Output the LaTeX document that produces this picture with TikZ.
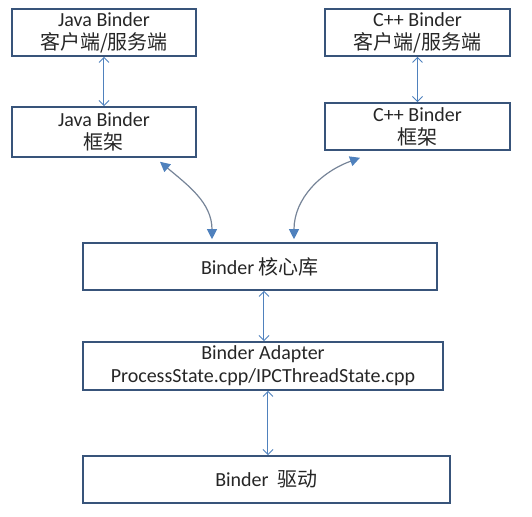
\documentclass[tikz,border=0pt]{standalone}
\usepackage{fontspec}
\setmainfont{Carlito}
\newfontfamily\cjk{Noto Sans CJK SC}
\usetikzlibrary{arrows.meta}

\definecolor{boxblue}{RGB}{56,84,122}
\definecolor{arrowblue}{RGB}{79,129,189}
\definecolor{curvegray}{RGB}{118,132,152}
\definecolor{textgray}{RGB}{38,38,38}

\tikzset{
  layerbox/.style={draw=boxblue, line width=0.8pt, inner sep=0pt, align=center,
    text=textgray, font=\fontsize{10}{11.5}\selectfont},
  link/.style={arrowblue, line width=0.5pt,
    {Straight Barb[length=2.5pt,width=5pt]}-{Straight Barb[length=2.5pt,width=5pt]}},
  bendlink/.style={curvegray, line width=0.6pt,
    {Triangle[length=5pt,width=5pt,color=arrowblue]}-{Triangle[length=5pt,width=5pt,color=arrowblue]}}
}

\begin{document}
\begin{tikzpicture}[x=0.5pt,y=0.5pt]
    \useasboundingbox (0,0) rectangle (532,517);
    % top row
    \node[layerbox, minimum width=92pt, minimum height=23.5pt] (javaapp) at (104,484.5) {Java Binder\\{\cjk 客户端/服务端}};
    \node[layerbox, minimum width=92.5pt, minimum height=23.5pt] (cppapp) at (417.5,484.5) {C++ Binder\\{\cjk 客户端/服务端}};
    % frameworks
    \node[layerbox, minimum width=92pt, minimum height=25pt] (javafw) at (104,385) {Java Binder\\{\cjk 框架}};
    \node[layerbox, minimum width=92.5pt, minimum height=23.5pt] (cppfw) at (417.5,390.5) {C++ Binder\\{\cjk 框架}};
    % lower layers
    \node[layerbox, minimum width=177pt, minimum height=23.5pt] (core) at (260,250.5) {Binder {\cjk 核心库}};
    \node[layerbox, minimum width=180pt, minimum height=24pt] (adapter) at (263,151) {Binder Adapter\\ProcessState.cpp/IPCThreadState.cpp};
    \node[layerbox, minimum width=183.5pt, minimum height=23.5pt] (driver) at (266.5,37.5) {Binder\ \ {\cjk 驱动}};

    \draw[link] (javaapp) -- (javafw);
    \draw[link] (cppapp) -- (cppfw);
    \draw[link] ([xshift=2pt]core.south) -- ([xshift=0.5pt]adapter.north);
    \draw[link] ([xshift=2.5pt]adapter.south) -- ([xshift=0.75pt]driver.north);

    \draw[bendlink] ([xshift=28pt,yshift=-2pt]javafw.south) to[out=-40,in=90] ([xshift=-24pt,yshift=1.5pt]core.north);
    \draw[bendlink] ([xshift=17pt,yshift=1.5pt]core.north) to[out=90,in=200] ([xshift=-28.75pt,yshift=-3.5pt]cppfw.south);
\end{tikzpicture}
\end{document}
